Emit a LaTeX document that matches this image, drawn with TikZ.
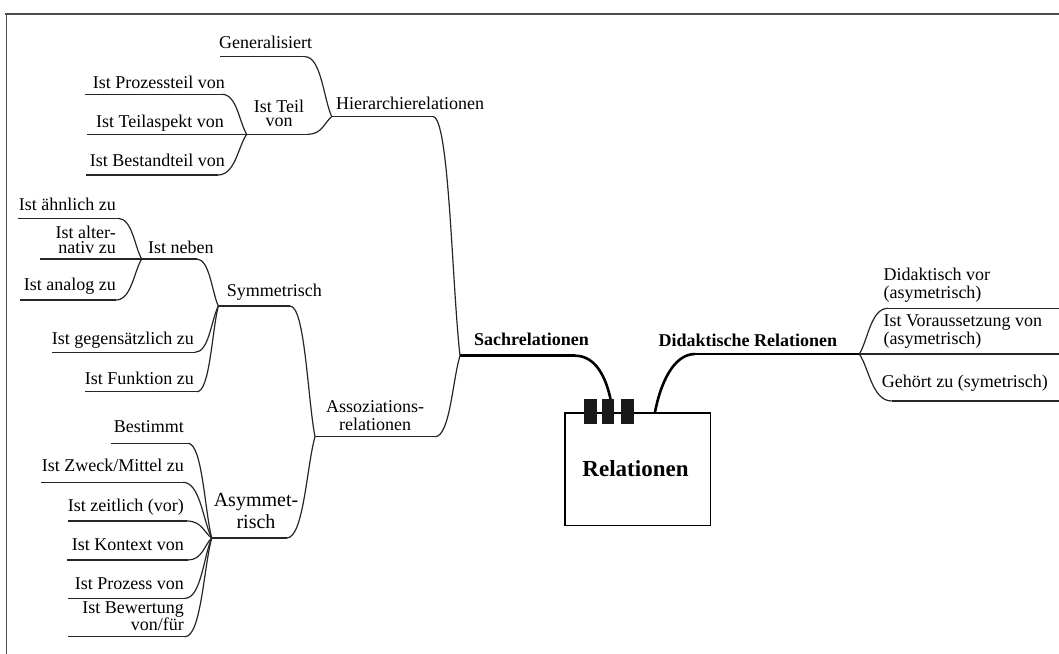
\documentclass[tikz,border=0pt]{standalone}
\usepackage{fontspec}
\setmainfont{Liberation Serif}
\usetikzlibrary{calc}
\tikzset{
  lbl/.style={inner sep=0pt, font=\fontsize{18}{16}\selectfont},
  link/.style={line width=1.2pt, black!85},
  ul/.style={line width=1.2pt, black!85},
  mainline/.style={line width=2.6pt, black},
  frameline/.style={line width=1.8pt, black!70},
  tab/.style={fill=black!90, draw=none},
}
\newcommand\mmlink[3][]{\draw[link,#1] (#2) .. controls ($(#2)!0.6!(#3 |- #2)$) and ($(#3)!0.3!(#2)$) .. (#3);}
\begin{document}
\begin{tikzpicture}[x=1pt,y=-1pt]
\useasboundingbox (0,0) rectangle (1059,653);
% frame
\draw[frameline] (5,14) -- (1062,14);
\draw[frameline] (6.5,13.1) -- (6.5,656);

% ---------- coordinates ----------
\coordinate (gen-l) at (220,56.7);   \coordinate (gen-r) at (305,56.7);
\coordinate (pro-l) at (85,94.3);    \coordinate (pro-r) at (222,94.3);
\coordinate (asp-l) at (87,134.3);
\coordinate (bes-l) at (86,175);     \coordinate (bes-r) at (218,175);
\coordinate (teil-l) at (246.7,134.3); \coordinate (teil-r) at (308,134.3);
\coordinate (hier-l) at (331.7,116.7); \coordinate (hier-r) at (433,116.7);
\coordinate (aeh-l) at (18,218.3);   \coordinate (aeh-r) at (118,218.3);
\coordinate (alt-l) at (40,259);
\coordinate (ana-l) at (20,300);     \coordinate (ana-r) at (116,300);
\coordinate (neb-l) at (141.7,259);  \coordinate (neb-r) at (196.7,259);
\coordinate (sym-l) at (218.3,306);  \coordinate (sym-r) at (290,306);
\coordinate (geg-l) at (51.7,352.3); \coordinate (geg-r) at (195,352.3);
\coordinate (fun-l) at (85,391.7);   \coordinate (fun-r) at (197,391.7);
\coordinate (ass-l) at (315,436.7);  \coordinate (ass-r) at (435,436.7);
\coordinate (bst-l) at (111,443.3);  \coordinate (bst-r) at (188,443.3);
\coordinate (zwe-l) at (41,482.3);   \coordinate (zwe-r) at (183,482.3);
\coordinate (zei-l) at (68,521);     \coordinate (zei-r) at (187,521);
\coordinate (kon-l) at (67,560);     \coordinate (kon-r) at (188,560);
\coordinate (prz-l) at (68,598.3);   \coordinate (prz-r) at (185,598.3);
\coordinate (bew-l) at (68,636.7);   \coordinate (bew-r) at (185,636.7);
\coordinate (asy-l) at (211.7,538);  \coordinate (asy-r) at (286.7,538);
\coordinate (sach-l) at (460,355.7); \coordinate (sach-r) at (575,355.7);
\coordinate (did-l) at (695,354);    \coordinate (did-r) at (859.3,354);
\coordinate (dvor-l) at (888,308.3); \coordinate (dvor-r) at (1062,308.3);
\coordinate (vor-r) at (1062,354);
\coordinate (geh-l) at (891.7,401);  \coordinate (geh-r) at (1062,401);

% ---------- central box ----------
\node[draw, line width=1.2pt, minimum width=145.7pt, minimum height=112.7pt, inner sep=0pt, anchor=north west] (box) at (564.3,412.3) {};
\node[inner sep=0pt, font=\fontsize{23}{25}\selectfont\bfseries, anchor=base] (t-rel) at (635.5,476) {Relationen};
\fill[tab] (584,399) rectangle (596.7,424.3);
\fill[tab] (602.3,399) rectangle (614.3,424.3);
\fill[tab] (621,399) rectangle (634,424.3);
\coordinate (box-a) at (610.5,399);
\coordinate (box-b) at (655,412.3);

% ---------- texts ----------
\node[lbl,anchor=base west] (t-gen) at (219,48.5) {Generalisiert};
\node[lbl,anchor=base east] (t-pro) at (225,88) {Ist Prozessteil von};
\node[lbl,anchor=base east] (t-asp) at (224,127.3) {Ist Teilaspekt von};
\node[lbl,anchor=base east] (t-bes) at (225,166) {Ist Bestandteil von};
\node[lbl,align=center,anchor=base,font=\fontsize{18}{14.5}\selectfont] (t-teil) at (279,126.5) {Ist Teil\\von};
\node[lbl,anchor=base west] (t-hier) at (336,109) {Hierarchierelationen};

\node[lbl,anchor=base east] (t-aeh) at (116,210.7) {Ist ähnlich zu};
\node[lbl,align=right,anchor=base east,font=\fontsize{18}{15.3}\selectfont] (t-alt) at (116,253.3) {Ist alter-\\nativ zu};
\node[lbl,anchor=base east] (t-ana) at (116,290) {Ist analog zu};
\node[lbl,anchor=base west] (t-neb) at (148,253.3) {Ist neben};
\node[lbl,anchor=base west] (t-sym) at (226.7,296) {Symmetrisch};
\node[lbl,anchor=base east] (t-geg) at (194,344) {Ist gegensätzlich zu};
\node[lbl,anchor=base east] (t-fun) at (194,384) {Ist Funktion zu};
\node[lbl,align=center,anchor=base,font=\fontsize{18}{17.3}\selectfont] (t-ass) at (375,430) {Assoziations-\\relationen};

\node[lbl,anchor=base east] (t-bst) at (184,432.7) {Bestimmt};
\node[lbl,anchor=base east] (t-zwe) at (184,471.7) {Ist Zweck/Mittel zu};
\node[lbl,anchor=base east] (t-zei) at (184,511) {Ist zeitlich (vor)};
\node[lbl,anchor=base east] (t-kon) at (184,550) {Ist Kontext von};
\node[lbl,anchor=base east] (t-prz) at (184,589.7) {Ist Prozess von};
\node[lbl,align=right,anchor=base east,font=\fontsize{18}{17}\selectfont] (t-bew) at (184,630.7) {Ist Bewertung\\von/für};
\node[lbl,align=center,anchor=base,font=\fontsize{20}{21.3}\selectfont] (t-asy) at (256,528) {Asymmet-\\risch};

\node[lbl,anchor=base west,font=\fontsize{18}{16}\selectfont\bfseries] (t-sach) at (474,345.7) {Sachrelationen};
\node[lbl,anchor=base west,font=\fontsize{18}{16}\selectfont\bfseries] (t-did) at (658.3,346) {Didaktische Relationen};
\node[lbl,align=left,anchor=base west,font=\fontsize{18}{17.5}\selectfont] (t-dvor) at (883.3,298) {Didaktisch vor\\(asymetrisch)};
\node[lbl,align=left,anchor=base west,font=\fontsize{18}{15.5}\selectfont] (t-vor) at (883.3,344.3) {Ist Voraussetzung von\\(asymetrisch)};
\node[lbl,anchor=base west] (t-geh) at (881.7,387) {Gehört zu (symetrisch)};

% ---------- underlines ----------
\draw[ul] (gen-l) -- (gen-r);
\draw[ul] (pro-l) -- (pro-r);
\draw[ul] (asp-l) -- (teil-l);
\draw[ul] (bes-l) -- (bes-r);
\draw[ul] (teil-l) -- (teil-r);
\draw[ul] (hier-l) -- (hier-r);
\draw[ul] (aeh-l) -- (aeh-r);
\draw[ul] (alt-l) -- (neb-l);
\draw[ul] (ana-l) -- (ana-r);
\draw[ul] (neb-l) -- (neb-r);
\draw[ul] (sym-l) -- (sym-r);
\draw[ul] (geg-l) -- (geg-r);
\draw[ul] (fun-l) -- (fun-r);
\draw[ul] (ass-l) -- (ass-r);
\draw[ul] (bst-l) -- (bst-r);
\draw[ul] (zwe-l) -- (zwe-r);
\draw[ul] (zei-l) -- (zei-r);
\draw[ul] (kon-l) -- (kon-r);
\draw[ul] (prz-l) -- (prz-r);
\draw[ul] (bew-l) -- (bew-r);
\draw[ul] (asy-l) -- (asy-r);
\draw[mainline] (sach-l) -- (sach-r);
\draw[mainline] (did-l) -- (did-r);
\draw[ul] (dvor-l) -- (dvor-r);
\draw[ul] (did-r) -- (vor-r);
\draw[ul] (geh-l) -- (geh-r);

% ---------- links ----------
\mmlink{gen-r}{hier-l}
\mmlink{pro-r}{teil-l}
\mmlink{bes-r}{teil-l}
\mmlink{teil-r}{hier-l}
\mmlink{hier-r}{sach-l}
\mmlink{aeh-r}{neb-l}
\mmlink{ana-r}{neb-l}
\mmlink{neb-r}{sym-l}
\mmlink{geg-r}{sym-l}
\mmlink{fun-r}{sym-l}
\mmlink{sym-r}{ass-l}
\mmlink{ass-r}{sach-l}
\mmlink{bst-r}{asy-l}
\mmlink{zwe-r}{asy-l}
\mmlink{zei-r}{asy-l}
\mmlink{kon-r}{asy-l}
\mmlink{prz-r}{asy-l}
\mmlink{bew-r}{asy-l}
\mmlink{asy-r}{ass-l}
\mmlink{dvor-l}{did-r}
\mmlink{geh-l}{did-r}
\draw[mainline] (sach-r) .. controls (596,355.7) and (606,378) .. (box-a);
\draw[mainline] (did-l) .. controls (673,354) and (660,385) .. (box-b);
\end{tikzpicture}
\end{document}
